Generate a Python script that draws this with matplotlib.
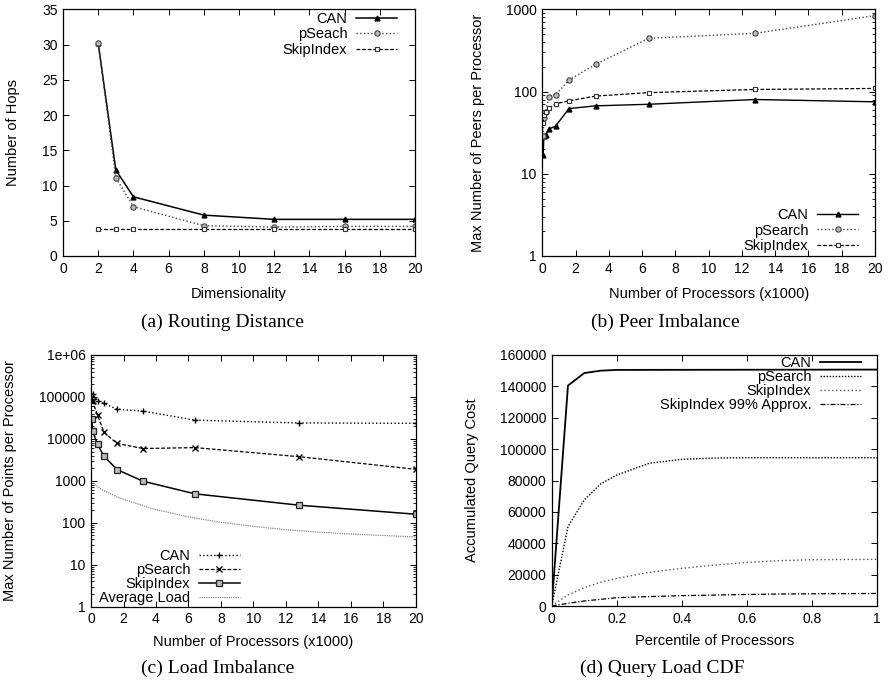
import matplotlib
matplotlib.use("Agg")
import matplotlib.pyplot as plt
from matplotlib.ticker import FixedLocator, FixedFormatter, LogLocator, NullFormatter

plt.rcParams['font.family'] = ['Liberation Sans', 'DejaVu Sans']
plt.rcParams['font.size'] = 10
plt.rcParams['axes.linewidth'] = 0.9

# ---------------- (a) Routing Distance ----------------
a_dims = [2, 3, 4, 8, 12, 16, 20]
a_can = [30.2, 12.2, 8.4, 5.8, 5.2, 5.2, 5.2]
a_pseach = [30.2, 11.1, 7.0, 4.3, 4.1, 4.2, 4.2]
a_skip = [3.8, 3.8, 3.8, 3.8, 3.8, 3.8, 3.8]

# ---------------- (b) Peer Imbalance ----------------
b_procs = [0.05, 0.1, 0.2, 0.4, 0.8, 1.6, 3.2, 6.4, 12.8, 20]
b_can = [17, 29, 30, 35, 38, 62, 67, 70, 80, 75]
b_psearch = [29, 48, 57, 87, 91, 138, 214, 444, 511, 837]
b_skip = [41, 52, 56, 62.5, 71, 77, 88, 97, 106, 109]

# ---------------- (c) Load Imbalance ----------------
c_procs = [0.05, 0.1, 0.4, 0.8, 1.6, 3.2, 6.4, 12.8, 20]
c_can = [90000, 118000, 82000, 70000, 51000, 46000, 28000, 24000, 23500]
c_psearch = [80000, 78000, 37000, 14300, 7800, 5900, 6200, 3770, 1880]
c_skip = [30000, 15500, 7400, 3880, 1860, 980, 490, 263, 160]
c_avg_x = [0, 0.66, 1.68, 3.73, 6.0, 7.8, 9.9, 11.9, 13.96, 16, 20]
c_avg = [947, 620, 401, 219, 138, 105, 83, 69, 60, 54, 46]

# ---------------- (d) Query Load CDF ----------------
d_can_x = [0, 0.05, 0.1, 0.15, 0.2, 1.0]
d_can = [0, 140500, 148500, 150000, 150500, 150700]
d_ps_x = [0, 0.05, 0.1, 0.15, 0.2, 0.3, 0.4, 0.5, 0.6, 1.0]
d_ps = [0, 50600, 67600, 77800, 83500, 91000, 93500, 94300, 94500, 94500]
d_sk_x = [0, 0.05, 0.1, 0.15, 0.2, 0.3, 0.4, 0.5, 0.6, 0.7, 0.8, 1.0]
d_sk = [0, 7000, 11700, 15100, 17600, 21500, 24000, 26100, 27800, 28900, 29500, 29750]
d_ap_x = [0, 0.05, 0.1, 0.2, 0.3, 0.4, 0.5, 0.7, 1.0]
d_ap = [0, 1700, 3200, 5300, 6000, 6600, 7000, 7650, 8000]

W, H = 889, 686
fig = plt.figure(figsize=(W / 100, H / 100), dpi=100)


def add_axes(l, r, t, b):
    return fig.add_axes([l / W, 1 - b / H, (r - l) / W, (b - t) / H])


def style(ax):
    ax.tick_params(which='both', direction='in', top=True, right=True,
                   labelsize=10, pad=4)
    ax.tick_params(which='major', length=4, width=0.7)
    ax.tick_params(which='minor', length=2.5, width=0.6)


def legend(ax, loc, anchor, spacing):
    leg = ax.legend(loc=loc, bbox_to_anchor=anchor, frameon=False,
                    markerfirst=False, numpoints=1, handlelength=2.8,
                    handletextpad=0.6, borderpad=0, borderaxespad=0,
                    labelspacing=spacing, fontsize=10.5)
    return leg


# (a)
ax = add_axes(63, 415, 9.3, 256)
ax.plot(a_dims, a_can, '-', color='black', lw=1.1, marker='^', ms=3.5,
        label='CAN')
ax.plot(a_dims, a_pseach, ':', color='#444444', lw=1.0, marker='o', ms=3.8,
        mfc='#bbbbbb', mec='#444444', mew=0.8, label='pSeach')
ax.plot(a_dims, a_skip, '--', color='black', lw=0.9, dashes=(3, 1.5),
        marker='s', ms=3.5, mfc='white', mec='#333333', mew=0.8,
        label='SkipIndex')
ax.set_xlim(0, 20)
ax.set_ylim(0, 35)
ax.set_xticks(range(0, 21, 2))
ax.set_yticks(range(0, 36, 5))
style(ax)
ax.set_xlabel('Dimensionality', fontsize=10.5)
ax.set_ylabel('Number of Hops', fontsize=10.5)
ax.xaxis.set_label_coords(0.5, -0.126)
ax.yaxis.set_label_coords(-0.122, 0.5)
legend(ax, 'upper right', (0.949, 0.99), 0.1)

# (b)
ax = add_axes(542.3, 875, 9.3, 256)
ax.plot(b_procs, b_can, '-', color='black', lw=1.0, marker='^', ms=3.5,
        label='CAN')
ax.plot(b_procs, b_psearch, ':', color='#444444', lw=1.0, marker='o', ms=3.8,
        mfc='#bbbbbb', mec='#444444', mew=0.8, label='pSearch')
ax.plot(b_procs, b_skip, '--', color='black', lw=0.9, dashes=(3, 1.5),
        marker='s', ms=3.5, mfc='white', mec='#333333', mew=0.8,
        label='SkipIndex')
ax.set_yscale('log')
ax.set_xlim(0, 20)
ax.set_ylim(1, 1000)
ax.set_xticks(range(0, 21, 2))
ax.yaxis.set_major_locator(FixedLocator([1, 10, 100, 1000]))
ax.yaxis.set_major_formatter(FixedFormatter(['1', '10', '100', '1000']))
ax.yaxis.set_minor_locator(LogLocator(base=10, subs=range(2, 10)))
ax.yaxis.set_minor_formatter(NullFormatter())
style(ax)
ax.set_xlabel('Number of Processors (x1000)', fontsize=10.5)
ax.set_ylabel('Max Number of Peers per Processor', fontsize=10.5)
ax.xaxis.set_label_coords(0.5, -0.126)
ax.yaxis.set_label_coords(-0.172, 0.5)
legend(ax, 'lower right', (0.949, 0.012), 0.1)

# (c)
ax = add_axes(91, 416, 355, 606.7)
ax.plot(c_procs, c_can, ':', color='black', lw=1.0, marker='+', ms=4.5,
        mew=1.0, label='CAN')
ax.plot(c_procs, c_psearch, '--', color='black', lw=0.9, dashes=(3, 1.5),
        marker='x', ms=3.8, mew=1.0, label='pSearch')
ax.plot(c_procs, c_skip, '-', color='black', lw=1.1, marker='s', ms=3.8,
        mfc='#bbbbbb', mec='#222222', mew=0.9, label='SkipIndex')
ax.plot(c_avg_x, c_avg, ':', color='#888888', lw=0.9, dashes=(1, 0.8),
        label='Average Load')
ax.set_yscale('log')
ax.set_xlim(0, 20)
ax.set_ylim(1, 1e6)
ax.set_xticks(range(0, 21, 2))
c_ticks = [1, 10, 100, 1000, 10000, 100000, 1000000]
c_tick_labels = ['1', '10', '100', '1000', '10000', '100000', '1e+06']
ax.yaxis.set_major_locator(FixedLocator(c_ticks))
ax.yaxis.set_major_formatter(FixedFormatter(c_tick_labels))
ax.yaxis.set_minor_locator(LogLocator(base=10, subs=range(2, 10)))
ax.yaxis.set_minor_formatter(NullFormatter())
style(ax)
ax.set_xlabel('Number of Processors (x1000)', fontsize=10.5)
ax.set_ylabel('Max Number of Points per Processor', fontsize=10.5)
ax.xaxis.set_label_coords(0.5, -0.113)
ax.yaxis.set_label_coords(-0.228, 0.5)
legend(ax, 'lower right', (0.458, 0.008), 0.0)

# (d)
ax = add_axes(551.7, 877.3, 355, 606)
ax.plot(d_can_x, d_can, '-', color='black', lw=1.3, label='CAN')
ax.plot(d_ps_x, d_ps, ':', color='black', lw=1.0, dashes=(1, 1.2),
        label='pSearch')
ax.plot(d_sk_x, d_sk, ':', color='#555555', lw=1.0, dashes=(1, 1.8),
        label='SkipIndex')
ax.plot(d_ap_x, d_ap, '-.', color='black', lw=0.9, dashes=(4, 1.5, 1, 1.5),
        label='SkipIndex 99% Approx.')
ax.set_xlim(0, 1)
ax.set_ylim(0, 160000)
ax.set_xticks([0, 0.2, 0.4, 0.6, 0.8, 1])
ax.set_xticklabels(['0', '0.2', '0.4', '0.6', '0.8', '1'])
ax.set_yticks(range(0, 160001, 20000))
ax.set_yticklabels([str(v) for v in range(0, 160001, 20000)])
style(ax)
ax.set_xlabel('Percentile of Processors', fontsize=10.5)
ax.set_ylabel('Accumulated Query Cost', fontsize=10.5)
ax.xaxis.set_label_coords(0.5, -0.113)
ax.yaxis.set_label_coords(-0.223, 0.5)
legend(ax, 'upper right', (0.95, 0.995), 0.0)

# captions
cap_font = dict(family=['Liberation Serif', 'DejaVu Serif'], fontsize=14,
                ha='center', va='center')
fig.text(222 / W, 1 - 322 / H, '(a) Routing Distance', **cap_font)
fig.text(665 / W, 1 - 322 / H, '(b) Peer Imbalance', **cap_font)
fig.text(218 / W, 1 - 668 / H, '(c) Load Imbalance', **cap_font)
fig.text(662 / W, 1 - 668 / H, '(d) Query Load CDF', **cap_font)

fig.savefig('out.png', dpi=100)
